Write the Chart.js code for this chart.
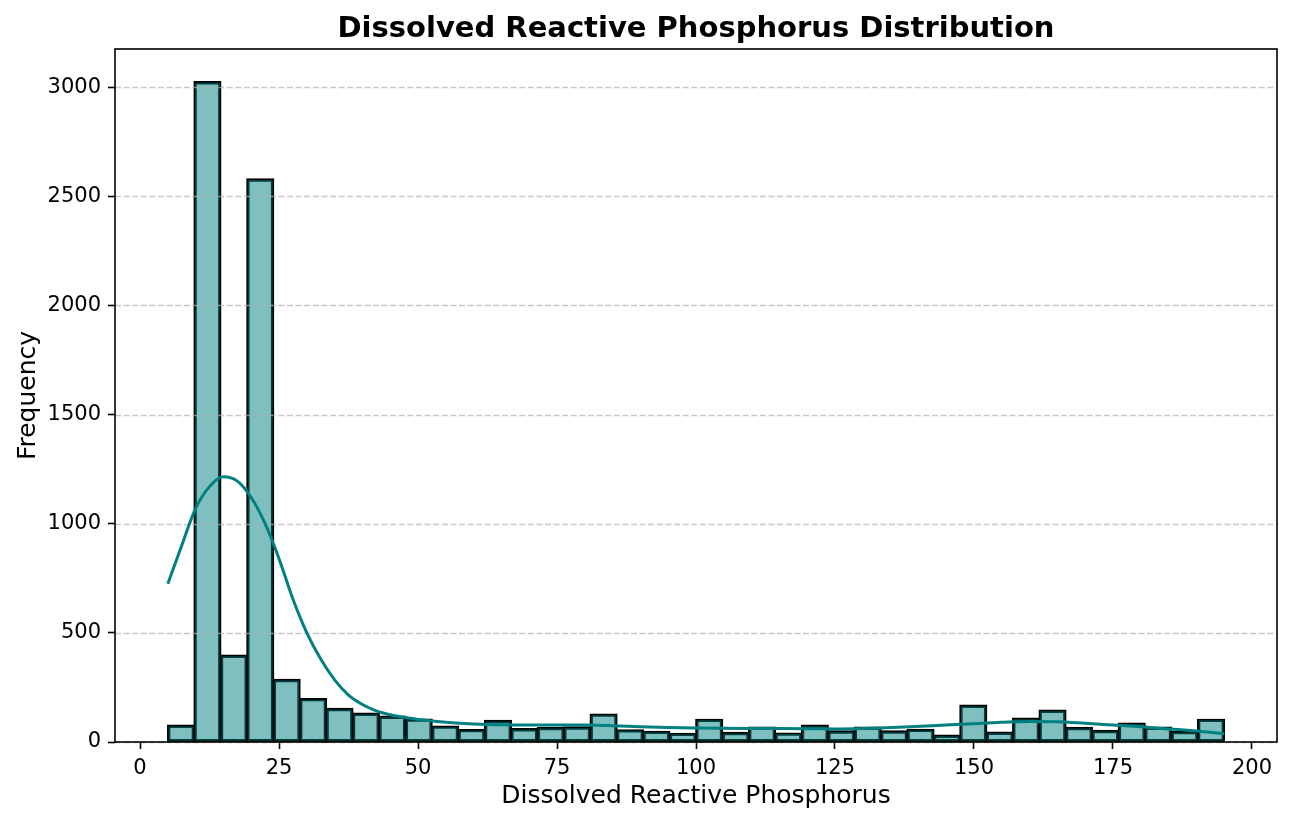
<!DOCTYPE html>
<html>
<head>
<meta charset="utf-8">
<script src="https://cdn.jsdelivr.net/npm/chart.js@4.4.1/dist/chart.umd.min.js"></script>
<style>
  html, body { margin: 0; padding: 0; background: #fff; }
  #wrap { width: 1292px; height: 824px; }
</style>
</head>
<body>
<div id="wrap"><canvas id="c" width="1292" height="824"></canvas></div>
<script>
// ---- data ----
const chartTitle = "Dissolved Reactive Phosphorus Distribution";
const xLabel = "Dissolved Reactive Phosphorus";
const yLabel = "Frequency";

const binStart = 5;
const binWidth = 4.75;
const binCounts = [76, 3024, 397, 2579, 286, 198, 153, 131, 117, 104,
                   72, 56, 98, 60, 66, 68, 127, 55, 48, 39,
                   103, 43, 67, 40, 76, 50, 67, 50, 57, 30,
                   168, 44, 108, 145, 66, 52, 86, 67, 47, 103];

const kdeX = [5, 7.5, 10, 12.5, 15, 17.5, 20, 22.5, 25, 27.5, 30, 32.5, 35, 37.5, 40, 42.5, 45, 47.5, 50,
              55, 60, 65, 70, 75, 80, 85, 90, 95, 100, 110, 120, 125, 130, 137.5, 145, 150, 155, 160, 165,
              170, 175, 180, 185, 190, 195];
const kdeY = [725, 900, 1070, 1170, 1215, 1195, 1120, 1000, 840, 655, 500, 380, 285, 215, 172, 143, 125, 113, 103,
              91, 83, 79, 78, 78, 78, 75, 70, 66, 64, 62, 61, 60, 62, 69, 78, 84, 90, 94, 93,
              86, 78, 70, 60, 50, 38];

const xTicks = [0, 25, 50, 75, 100, 125, 150, 175, 200];
const yTicks = [0, 500, 1000, 1500, 2000, 2500, 3000];
const xMin = -4.5, xMax = 204.5;
const yMin = 0, yMax = 3175;

// ---- build datasets ----
const barData = binCounts.map((v, i) => ({ x: binStart + binWidth * (i + 0.5), y: v }));
const kdeData = kdeX.map((x, i) => ({ x: x, y: kdeY[i] }));

const FONT = "'DejaVu Sans', 'Liberation Sans', sans-serif";

const gridOverBars = {
  id: 'gridOverBars',
  afterDatasetDraw(chart, args) {
    if (args.index !== 0) return;
    const ys = chart.scales.y;
    const area = chart.chartArea;
    const ctx = chart.ctx;
    ctx.save();
    ctx.strokeStyle = 'rgba(176,176,176,0.7)';
    ctx.lineWidth = 1.5;
    ctx.setLineDash([6, 2.6]);
    ys.ticks.forEach(t => {
      const py = Math.round(ys.getPixelForValue(t.value)) + 0.5;
      ctx.beginPath();
      ctx.moveTo(area.left, py);
      ctx.lineTo(area.right, py);
      ctx.stroke();
    });
    ctx.restore();
  }
};

const frameAndTitle = {
  id: 'frameAndTitle',
  afterDraw(chart) {
    const a = chart.chartArea;
    const ctx = chart.ctx;
    ctx.save();
    ctx.strokeStyle = '#000';
    ctx.lineWidth = 1.6;
    ctx.setLineDash([]);
    ctx.strokeRect(a.left, a.top, a.right - a.left, a.bottom - a.top);
    ctx.fillStyle = '#000';
    ctx.font = "bold 29px " + FONT;
    ctx.textAlign = 'center';
    ctx.textBaseline = 'alphabetic';
    ctx.fillText(chartTitle, (a.left + a.right) / 2, 37);
    ctx.restore();
  }
};

new Chart(document.getElementById('c'), {
  type: 'bar',
  data: {
    datasets: [
      {
        type: 'bar',
        label: 'count',
        data: barData,
        backgroundColor: 'rgba(0,128,128,0.5)',
        borderColor: '#000',
        borderWidth: 1.7,
        borderSkipped: false,
        inflateAmount: 0.85,
        barPercentage: 1.0,
        categoryPercentage: 1.0,
        grouped: false,
        order: 2
      },
      {
        type: 'line',
        label: 'kde',
        data: kdeData,
        borderColor: '#008080',
        borderWidth: 3,
        pointRadius: 0,
        fill: false,
        cubicInterpolationMode: 'monotone',
        order: 1
      }
    ]
  },
  options: {
    responsive: false,
    animation: false,
    devicePixelRatio: 1,
    layout: { padding: { top: 49, right: 15, bottom: 0, left: 0 } },
    plugins: {
      legend: { display: false },
      title: { display: false },
      tooltip: { enabled: false }
    },
    scales: {
      x: {
        type: 'linear',
        min: xMin,
        max: xMax,
        offset: false,
        afterFit(scale) { scale.height = 82; },
        afterBuildTicks(scale) { scale.ticks = xTicks.map(v => ({ value: v })); },
        ticks: {
          color: '#000',
          padding: 7,
          maxRotation: 0,
          autoSkip: false,
          font: { family: FONT, size: 21 },
          callback: (v) => String(v)
        },
        grid: {
          display: true,
          offset: false,
          drawOnChartArea: false,
          drawTicks: true,
          tickLength: 7,
          tickColor: '#000',
          tickWidth: 1.6,
          tickBorderDash: []
        },
        border: { display: false },
        title: {
          display: true,
          text: xLabel,
          color: '#000',
          font: { family: FONT, size: 25 },
          padding: { top: 0, bottom: 13 }
        }
      },
      y: {
        type: 'linear',
        min: yMin,
        max: yMax,
        afterFit(scale) { scale.width = 115; },
        afterBuildTicks(scale) { scale.ticks = yTicks.map(v => ({ value: v })); },
        ticks: {
          color: '#000',
          padding: 7,
          autoSkip: false,
          font: { family: FONT, size: 21 },
          callback: (v) => String(v)
        },
        grid: {
          display: true,
          drawOnChartArea: false,
          drawTicks: true,
          tickLength: 7,
          tickColor: '#000',
          tickWidth: 1.6,
          tickBorderDash: []
        },
        border: { display: false },
        title: {
          display: true,
          text: yLabel,
          color: '#000',
          font: { family: FONT, size: 25 },
          padding: { top: 13, bottom: 0 }
        }
      }
    }
  },
  plugins: [gridOverBars, frameAndTitle]
});
</script>
</body>
</html>
